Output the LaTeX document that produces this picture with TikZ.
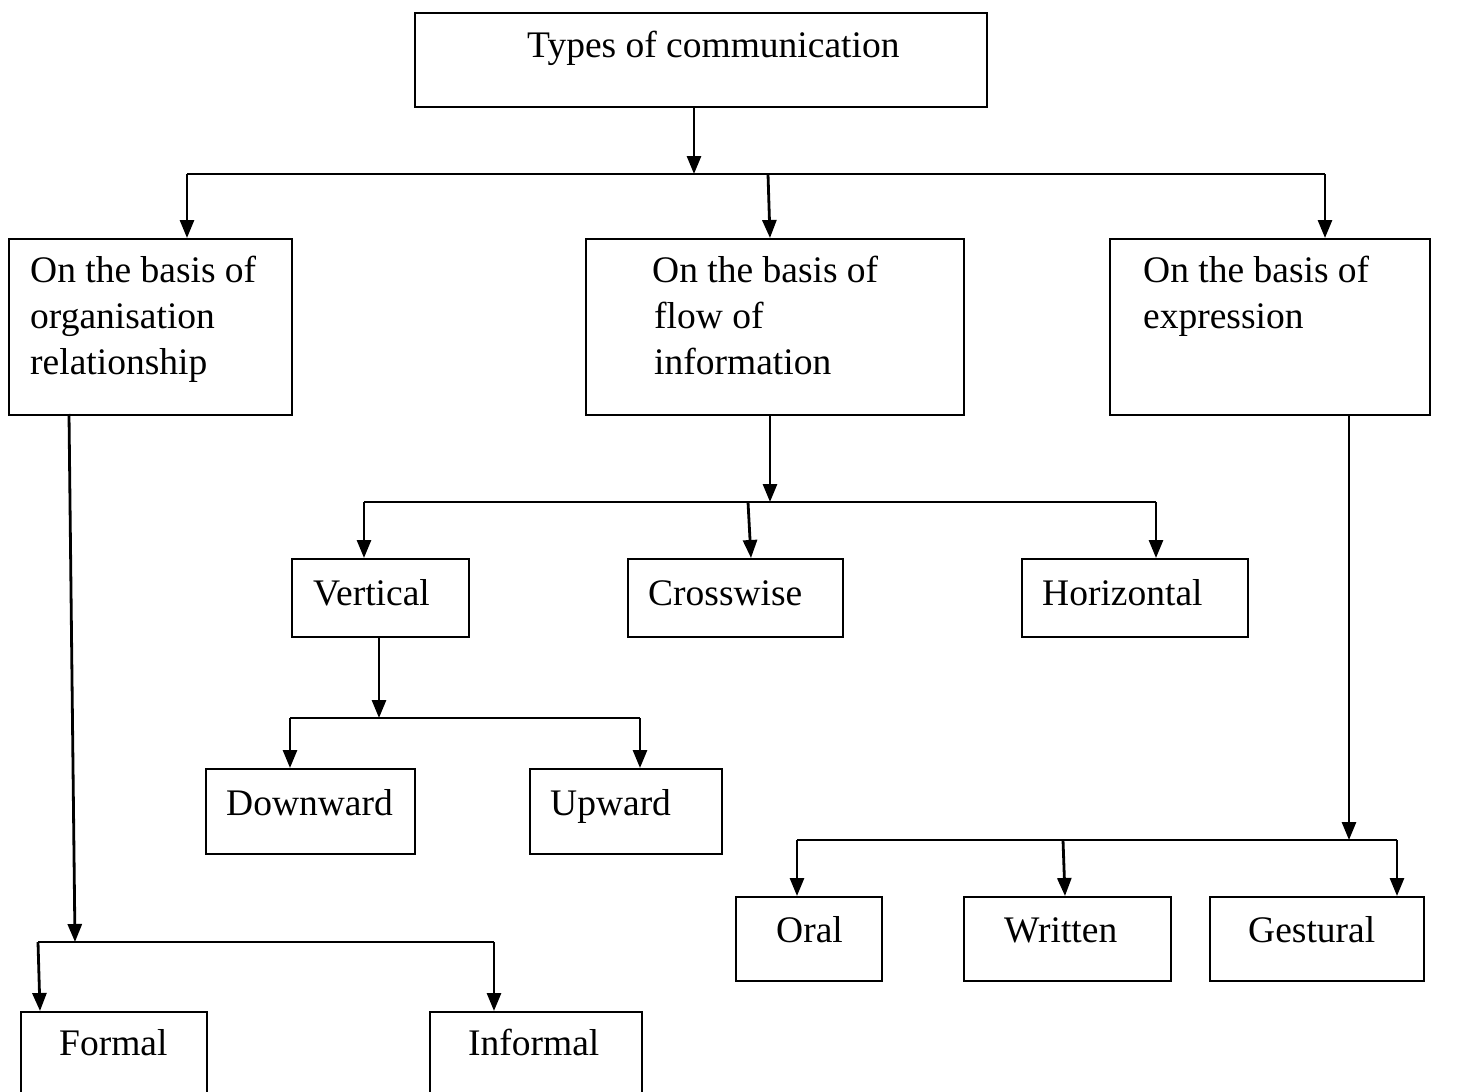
\documentclass[tikz,border=0pt]{standalone}
\usepackage{fontspec}
\setmainfont{Liberation Serif}
\usetikzlibrary{arrows.meta}
\begin{document}
\begin{tikzpicture}[x=1pt,y=-1pt,
  bx/.style 2 args={draw, line width=2.2pt, anchor=north west, inner sep=0pt, minimum width=#1, minimum height=#2},
  txt/.style={anchor=base west, inner sep=0pt, align=left, font=\fontsize{37.5}{46}\selectfont},
  con/.style={line width=2.8pt},
  arr/.style={line width=2.8pt, -{Triangle[length=18pt,width=14pt]}}]
\useasboundingbox (0,0) rectangle (1460,1092);
\fill[white] (0,0) rectangle (1460,1092);
% boxes
\node[bx={572pt}{94pt}] (top) at (414,12) {};
\node[bx={283pt}{176pt}] (org) at (8,238) {};
\node[bx={378pt}{176pt}] (flow) at (585,238) {};
\node[bx={320pt}{176pt}] (expr) at (1109,238) {};
\node[bx={177pt}{78pt}] (vert) at (291,558) {};
\node[bx={215pt}{78pt}] (cross) at (627,558) {};
\node[bx={226pt}{78pt}] (horiz) at (1021,558) {};
\node[bx={209pt}{85pt}] (down) at (205,768) {};
\node[bx={192pt}{85pt}] (up) at (529,768) {};
\node[bx={146pt}{84pt}] (oral) at (735,896) {};
\node[bx={207pt}{84pt}] (writ) at (963,896) {};
\node[bx={214pt}{84pt}] (gest) at (1209,896) {};
\node[bx={186pt}{90pt}] (formal) at (20,1011) {};
\node[bx={212pt}{90pt}] (informal) at (429,1011) {};
% texts (base anchor = last line's baseline)
\node[txt] (ttop) at (527,57) {Types of communication};
\node[txt] (torg) at (30,374) {On the basis of\\organisation\\relationship};
\node[txt] (tflow) at (652,374) {On the basis of\\\hspace*{2pt}flow of\\\hspace*{2pt}information};
\node[txt] (texpr) at (1143,328) {On the basis of\\expression};
\node[txt] (tvert) at (313,605) {Vertical};
\node[txt] (tcross) at (648,605) {Crosswise};
\node[txt] (thoriz) at (1042,605) {Horizontal};
\node[txt] (tdown) at (226,815) {Downward};
\node[txt] (tup) at (550,815) {Upward};
\node[txt] (toral) at (776,942) {Oral};
\node[txt] (twrit) at (1004,942) {Written};
\node[txt] (tgest) at (1248,942) {Gestural};
\node[txt] (tformal) at (59,1055) {Formal};
\node[txt] (tinformal) at (468,1055) {Informal};
% level 1 connectors
\coordinate (j1) at (694,174);
\coordinate (b1L) at (187,174);
\coordinate (b1M) at (768,174);
\coordinate (b1R) at (1325,174);
\draw[arr] (top.south -| j1) -- (j1);
\draw[con] (b1L) -- (b1R);
\draw[arr] (b1L) -- (org.north -| b1L);
\draw[arr] (b1M) -- ([xshift=2pt]flow.north -| b1M);
\draw[arr] (b1R) -- (expr.north -| b1R);
% organisation branch
\coordinate (o0) at (69,414);
\coordinate (j2) at (75,942);
\coordinate (b2L) at (38,942);
\coordinate (b2R) at (494,942);
\draw[arr] (o0) -- (j2);
\draw[con] (b2L) -- (b2R);
\draw[arr] (b2L) -- ([xshift=2pt]formal.north -| b2L);
\draw[arr] (b2R) -- (informal.north -| b2R);
% flow branch
\coordinate (f0) at (770,414);
\coordinate (j3) at (770,502);
\coordinate (b3L) at (364,502);
\coordinate (b3M) at (748,502);
\coordinate (b3R) at (1156,502);
\draw[arr] (f0) -- (j3);
\draw[con] (b3L) -- (b3R);
\draw[arr] (b3L) -- (vert.north -| b3L);
\draw[arr] (b3M) -- ([xshift=3pt]cross.north -| b3M);
\draw[arr] (b3R) -- (horiz.north -| b3R);
% vertical branch
\coordinate (v0) at (379,636);
\coordinate (j4) at (379,718);
\coordinate (b4L) at (290,718);
\coordinate (b4R) at (640,718);
\draw[arr] (v0) -- (j4);
\draw[con] (b4L) -- (b4R);
\draw[arr] (b4L) -- (down.north -| b4L);
\draw[arr] (b4R) -- (up.north -| b4R);
% expression branch
\coordinate (e0) at (1349,414);
\coordinate (j5) at (1349,840);
\coordinate (b5L) at (797,840);
\coordinate (b5M) at (1063,840);
\coordinate (b5R) at (1397,840);
\draw[arr] (e0) -- (j5);
\draw[con] (b5L) -- (b5R);
\draw[arr] (b5L) -- (oral.north -| b5L);
\draw[arr] (b5M) -- ([xshift=2pt]writ.north -| b5M);
\draw[arr] (b5R) -- (gest.north -| b5R);
\end{tikzpicture}
\end{document}
